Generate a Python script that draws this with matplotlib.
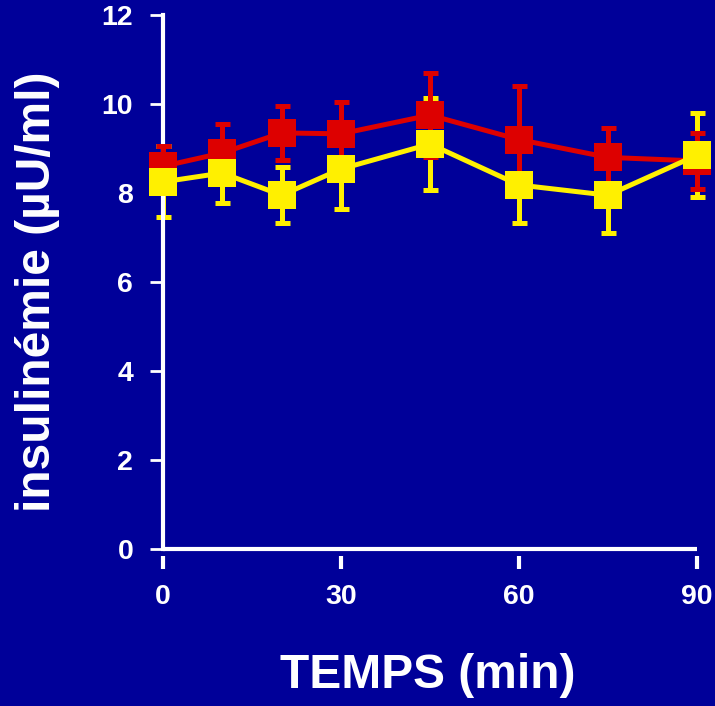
import matplotlib
matplotlib.use("Agg")
import matplotlib.pyplot as plt

# temps (min)
temps = [0, 10, 20, 30, 45, 60, 75, 90]

# serie rouge
rouge = [8.6, 8.9, 9.35, 9.33, 9.75, 9.2, 8.8, 8.72]
rouge_err = [0.45, 0.66, 0.6, 0.72, 0.95, 1.2, 0.65, 0.62]

# serie jaune
jaune = [8.25, 8.45, 7.95, 8.54, 9.1, 8.18, 7.95, 8.85]
jaune_err = [0.8, 0.68, 0.63, 0.9, 1.03, 0.85, 0.85, 0.95]

xticks = [0, 30, 60, 90]
yticks = [0, 2, 4, 6, 8, 10, 12]

fond = "#000099"
c_rouge = "#DD0000"
c_jaune = "#FFF000"

plt.rcParams['font.family'] = ['Liberation Sans', 'DejaVu Sans']
plt.rcParams['font.weight'] = 'bold'

fig = plt.figure(figsize=(7.15, 7.06), dpi=100, facecolor=fond)
ax = fig.add_axes([163/715, 157/706, 534/715, 534/706])
ax.set_facecolor(fond)

# barres d'erreur d'abord (jaune dessous, rouge dessus)
ax.errorbar(temps, jaune, yerr=jaune_err, fmt='none', ecolor=c_jaune,
            elinewidth=3.6, capsize=5.4, capthick=3.6, zorder=2, clip_on=False)
ax.errorbar(temps, rouge, yerr=rouge_err, fmt='none', ecolor=c_rouge,
            elinewidth=3.6, capsize=5.4, capthick=3.6, zorder=3, clip_on=False)

# courbes + marqueurs carrés
ax.plot(temps, rouge, color=c_rouge, lw=3.6, marker='s', ms=19.5,
        mew=0, zorder=4, clip_on=False)
ax.plot(temps, jaune, color=c_jaune, lw=3.6, marker='s', ms=19.5,
        mew=0, zorder=5, clip_on=False)

ax.set_xlim(0, 90)
ax.set_ylim(0, 12)
ax.set_xticks(xticks)
ax.set_yticks(yticks)

for s in ['top', 'right']:
    ax.spines[s].set_visible(False)
ax.spines['left'].set_color('white')
ax.spines['left'].set_linewidth(3)
# axe x : ligne blanche, graduations détachées en dessous
ax.spines['bottom'].set_color('none')
ax.spines['bottom'].set_position(('outward', 5))
ax.plot([0, 90], [0, 0], color='white', lw=3, clip_on=False, zorder=1,
        solid_capstyle='butt')

ax.tick_params(axis='y', colors='white', length=9.5, width=2, pad=12,
               labelsize=20.5)
ax.tick_params(axis='x', colors='white', length=9, width=3, pad=11,
               labelsize=20.5)
for lab in ax.get_xticklabels() + ax.get_yticklabels():
    lab.set_fontweight('bold')

fig.text(428/715, 1 - 676/706, "TEMPS (min)", color='white', fontsize=34.5,
         fontweight='bold', ha='center', va='center')
fig.text(38/715, 1 - 292/706, "insulinémie (µU/ml)", color='white',
         fontsize=34.5, fontweight='bold', ha='center', va='center',
         rotation=90)

fig.savefig("out.png", dpi=100, facecolor=fond)
